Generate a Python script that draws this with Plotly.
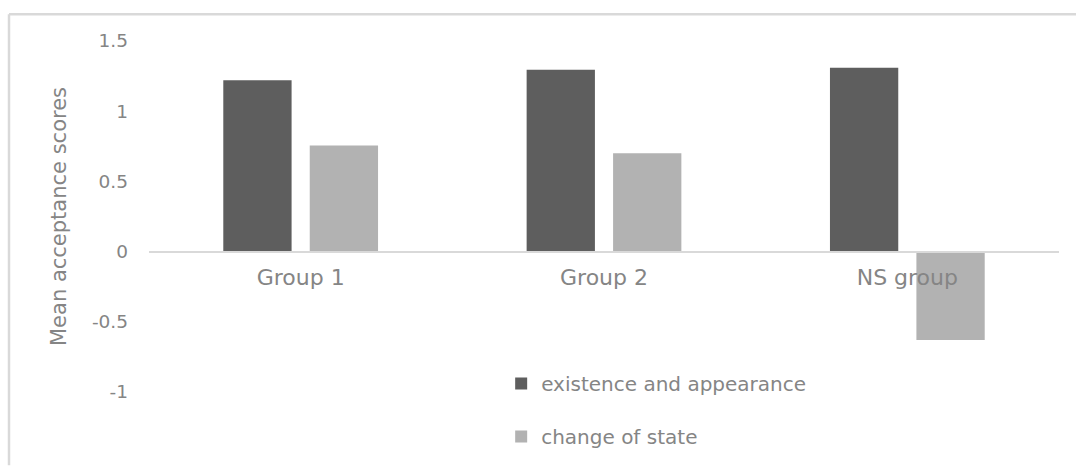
import plotly.graph_objects as go

categories = ["Group 1", "Group 2", "NS group"]
existence_appearance = [1.22, 1.295, 1.31]
change_of_state = [0.755, 0.70, -0.63]
series_names = ["existence and appearance", "change of state"]
y_ticks = [-1, -0.5, 0, 0.5, 1, 1.5]
y_tick_text = ["-1", "-0.5", "0", "0.5", "1", "1.5"]

FONT = "DejaVu Sans"
TXT = "#858585"

fig = go.Figure()
fig.add_trace(go.Bar(x=categories, y=existence_appearance, name=series_names[0],
                     marker=dict(color="#5e5e5e", line=dict(width=0)),
                     legendgroup="a"))
fig.add_trace(go.Bar(x=categories, y=change_of_state, name=series_names[1],
                     marker=dict(color="#b2b2b2", line=dict(width=0)),
                     legendgroup="b"))

L, R, T, B = 149, 17, 41, 72
fig.update_layout(
    width=1076, height=468,
    margin=dict(l=L, r=R, t=T, b=B, pad=0),
    paper_bgcolor="white", plot_bgcolor="white",
    barmode="group", bargap=0.43, bargroupgap=0.21,
    font=dict(family=FONT, size=18, color=TXT),
    showlegend=True,
    legend=dict(x=0.387, y=0.08, xanchor="left", yanchor="top",
                orientation="v", tracegroupgap=24,
                font=dict(family=FONT, size=20, color=TXT),
                bgcolor="rgba(0,0,0,0)", itemclick=False),
    xaxis=dict(anchor="free", position=0.4, showline=True, linecolor="#d9d9d9",
               linewidth=1.5, ticks="", showgrid=False, zeroline=False,
               tickfont=dict(family=FONT, size=22, color=TXT),
               ticklabelstandoff=6),
    yaxis=dict(range=[-1, 1.5], tickvals=y_ticks, ticktext=y_tick_text,
               showgrid=False, zeroline=False, showline=False, ticks="",
               ticklabelstandoff=20,
               tickfont=dict(family=FONT, size=18.5, color=TXT),
               title=dict(text="Mean acceptance scores", standoff=19,
                          font=dict(family=FONT, size=21, color=TXT))),
)

# chart-area border (top and left edges visible in the crop)
pw, ph = 1076 - L - R, 468 - T - B
x_left = (9 - L) / pw
y_top = (396 - 14) / ph
fig.add_shape(type="line", xref="paper", yref="paper", x0=x_left, x1=(1080 - L) / pw,
              y0=y_top, y1=y_top, line=dict(color="#d9d9d9", width=2.5), layer="below")
fig.add_shape(type="line", xref="paper", yref="paper", x0=x_left, x1=x_left,
              y0=y_top, y1=(396 - 470) / ph, line=dict(color="#d9d9d9", width=2.5), layer="below")

fig.write_html("out.html")
